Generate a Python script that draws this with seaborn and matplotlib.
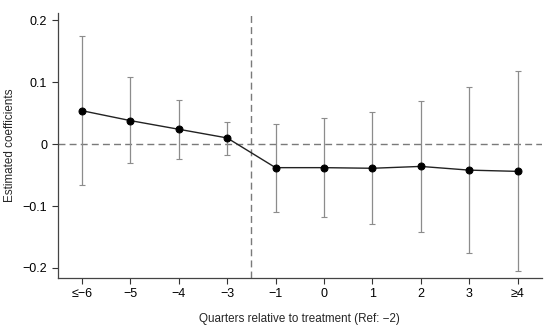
import seaborn as sns
import numpy as np
import pandas as pd
import matplotlib.pyplot as plt

quarters = ['≤−6', '−5', '−4', '−3', '−1', '0', '1', '2', '3', '≥4']
coef = [0.054, 0.038, 0.024, 0.010, -0.038, -0.038, -0.039, -0.036, -0.042, -0.044]
ci_low = [-0.066, -0.031, -0.024, -0.017, -0.110, -0.118, -0.129, -0.142, -0.176, -0.205]
ci_high = [0.175, 0.108, 0.072, 0.035, 0.033, 0.042, 0.052, 0.069, 0.092, 0.118]

df = pd.DataFrame({'pos': np.arange(len(quarters)), 'coef': coef,
                   'lo': ci_low, 'hi': ci_high})

sns.set_style('ticks')
plt.rcParams['font.family'] = ['Liberation Sans', 'DejaVu Sans']
plt.rcParams['axes.unicode_minus'] = True

fig = plt.figure(figsize=(5.5, 3.3), dpi=100)
ax = fig.add_axes([0.105, 0.158, 0.88, 0.803])

# confidence intervals
ax.errorbar(df.pos, df.coef,
            yerr=[df.coef - df.lo, df.hi - df.coef],
            fmt='none', ecolor='#8c8c8c', elinewidth=0.9, capsize=2, capthick=0.8, zorder=2)
ax.axhline(0, color='#7a7a7a', ls=(0, (5, 3)), lw=1.0, zorder=1)
ax.axvline(3.5, color='#7a7a7a', ls=(0, (5, 3)), lw=1.0, zorder=1)

sns.lineplot(data=df, x='pos', y='coef', ax=ax, color='#222222', lw=1.0,
             marker='o', markersize=5, markeredgecolor='black', markerfacecolor='black', zorder=3)

ax.set_xlim(-0.5, 9.5)
ax.set_ylim(-0.216, 0.212)
ax.set_xticks(df.pos)
ax.set_xticklabels(quarters)
ax.set_yticks([-0.2, -0.1, 0, 0.1, 0.2])
ax.set_yticklabels(['−0.2', '−0.1', '0', '0.1', '0.2'])
ax.tick_params(labelsize=9, length=4, width=0.8, colors='#333333', labelcolor='black')
for s in ['left', 'bottom']:
    ax.spines[s].set_color('#444444')
    ax.spines[s].set_linewidth(0.9)
sns.despine(ax=ax)
ax.set_xlabel('Quarters relative to treatment (Ref: −2)', fontsize=8.4, labelpad=9)
ax.set_ylabel('Estimated coefficients', fontsize=8.4, labelpad=5)

fig.savefig('out.png', dpi=100)
